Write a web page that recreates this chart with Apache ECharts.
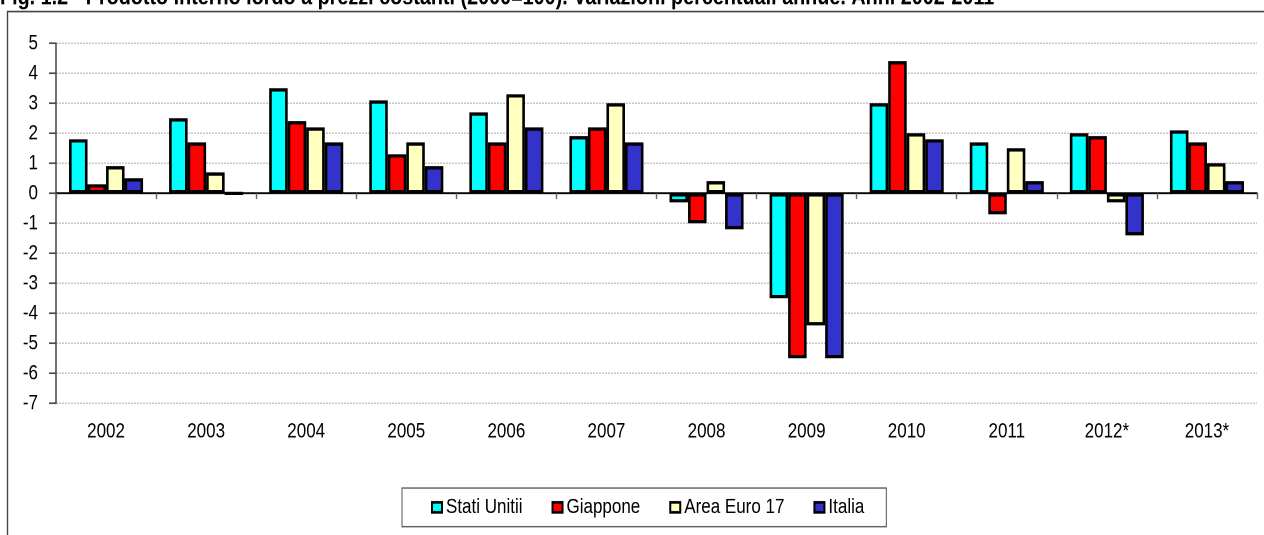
<!DOCTYPE html>
<html>
<head>
<meta charset="utf-8">
<script src="https://cdn.jsdelivr.net/npm/echarts@6/dist/echarts.min.js"></script>
<style>
  html, body { margin: 0; padding: 0; background: #fff; width: 1264px; height: 535px; }
  /* the figure uses tall, condensed lettering: draw it short and stretch it vertically */
  #chart { width: 1264px; height: 428px; transform: scaleY(1.25); transform-origin: 0 0; }
</style>
</head>
<body>
<div id="chart"></div>
<script>
// Prodotto interno lordo a prezzi costanti: variazioni percentuali annue
const years = ['2002', '2003', '2004', '2005', '2006', '2007', '2008', '2009', '2010', '2011', '2012*', '2013*'];
const seriesNames = ['Stati Unitii', 'Giappone', 'Area Euro 17', 'Italia'];
const statiUniti = [1.8, 2.5, 3.5, 3.1, 2.7, 1.9, -0.3, -3.5, 3.0, 1.7, 2.0, 2.1];
const giappone   = [0.3, 1.7, 2.4, 1.3, 1.7, 2.2, -1.0, -5.5, 4.4, -0.7, 1.9, 1.7];
const areaEuro17 = [0.9, 0.7, 2.2, 1.7, 3.3, 3.0, 0.4, -4.4, 2.0, 1.5, -0.3, 1.0];
const italia     = [0.5, 0.0, 1.7, 0.9, 2.2, 1.7, -1.2, -5.5, 1.8, 0.4, -1.4, 0.4];
const yTicks = { min: -7, max: 5, interval: 1 };
const titleText = 'Fig. 1.2 - Prodotto interno lordo a prezzi costanti (2000=100). Variazioni percentuali annue. Anni 2002-2011';

const colors = ['#00FFFF', '#FF0000', '#FFFFC0', '#3333CC'];
const values = [statiUniti, giappone, areaEuro17, italia];

const FONT = '"Liberation Sans", Arial, sans-serif';
const FS = 17;

const chart = echarts.init(document.getElementById('chart'), null, { renderer: 'canvas', devicePixelRatio: 2 });

const option = {
  backgroundColor: '#ffffff',
  animation: false,
  textStyle: { fontFamily: FONT },
  graphic: [
    {
      type: 'rect',
      shape: { x: 7.5, y: 9.2, width: 1400, height: 700 },
      style: { fill: 'none', stroke: '#444', lineWidth: 1.4 },
      z: 0
    },
    {
      type: 'text',
      left: 0,
      top: -12,
      style: { text: titleText, font: 'bold 19.8px ' + FONT, fill: '#000' },
      z: 10
    }
  ],
  legend: {
    data: seriesNames,
    left: 402,
    top: 390.4,
    orient: 'horizontal',
    padding: [7, 22, 7, 29],
    itemWidth: 10,
    itemHeight: 8,
    itemGap: 29,
    borderColor: '#555',
    borderWidth: 1,
    icon: 'rect',
    itemStyle: { borderColor: '#000', borderWidth: 2 },
    textStyle: { fontFamily: FONT, fontSize: FS, color: '#000', padding: [0, 0, 0, -1] }
  },
  grid: { left: 56, right: 7, top: 34.64, bottom: 105.36, containLabel: false },
  xAxis: [
    {
      type: 'category',
      data: years,
      position: 'bottom',
      axisLine: { show: false, onZero: false },
      axisTick: { show: false },
      axisLabel: { color: '#000', fontSize: FS, fontFamily: FONT, margin: 14 },
      splitLine: { show: false }
    },
    {
      type: 'category',
      data: years,
      position: 'bottom',
      axisLine: { show: true, onZero: true, lineStyle: { color: '#000', width: 1.4 } },
      axisTick: { show: true, length: 4.5, inside: false, lineStyle: { color: '#666', width: 1.4 } },
      axisLabel: { show: false },
      splitLine: { show: false }
    }
  ],
  yAxis: {
    type: 'value',
    min: yTicks.min,
    max: yTicks.max,
    interval: yTicks.interval,
    axisLine: { show: true, lineStyle: { color: '#444', width: 1.5 } },
    axisTick: { show: true, length: 7, lineStyle: { color: '#444', width: 1.2 } },
    axisLabel: { color: '#000', fontSize: FS, fontFamily: FONT, margin: 18 },
    splitLine: { show: true, lineStyle: { color: '#c4c4c4', type: [2, 1], width: 0.9 } }
  },
  series: seriesNames.map((name, i) => ({
    name: name,
    type: 'bar',
    xAxisIndex: 0,
    data: values[i],
    barGap: '0%',
    barCategoryGap: '26%',
    itemStyle: { color: colors[i], borderColor: '#000', borderWidth: 2.6 },
    emphasis: { disabled: true }
  }))
};

chart.setOption(option);
</script>
</body>
</html>
